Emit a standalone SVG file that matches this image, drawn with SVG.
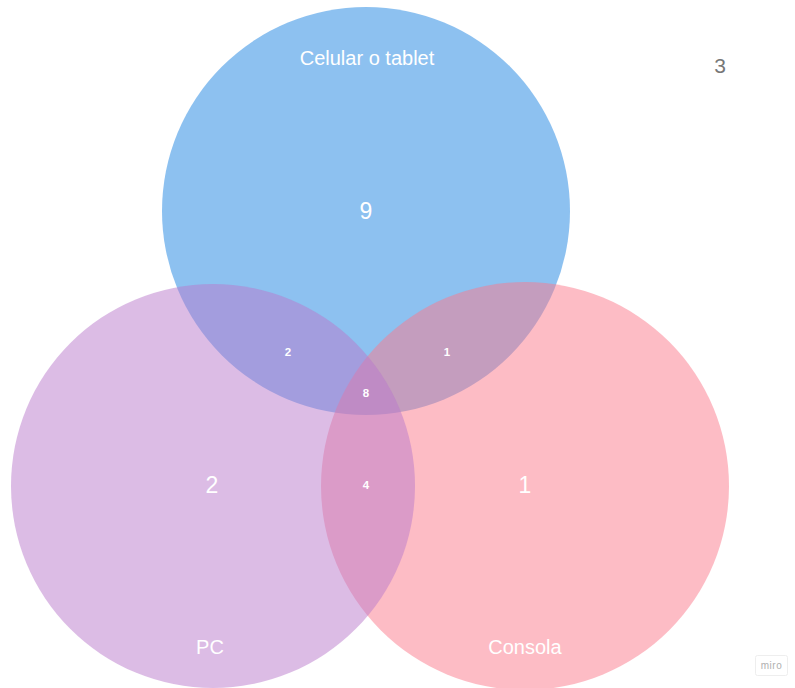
<svg xmlns="http://www.w3.org/2000/svg" width="795" height="688" viewBox="0 0 795 688">
  <style>
    .set { fill-opacity: 0.5; stroke: none; }
    .label { font-family: "Liberation Sans", Arial, sans-serif; fill: #ffffff; text-anchor: middle; }
    .big { font-size: 23px; }
    .name { font-size: 20px; }
    .small { font-size: 11.5px; font-weight: bold; }
  </style>
  <rect width="795" height="688" fill="#ffffff"/>

  <!-- Sets -->
  <g id="set-celular">
    <circle class="set" cx="366" cy="211" r="204" fill="#1b83e1"/>
  </g>
  <g id="set-consola">
    <circle class="set" cx="525" cy="486" r="204" fill="#fb798b"/>
  </g>
  <g id="set-pc">
    <circle class="set" cx="213" cy="486" r="202" fill="#b979cb"/>
  </g>

  <!-- Set names and counts -->
  <g id="text-celular">
    <text class="label name" x="367" y="65">Celular o tablet</text>
    <text class="label big" x="366" y="219">9</text>
  </g>
  <g id="text-pc">
    <text class="label name" x="210" y="654">PC</text>
    <text class="label big" x="212" y="493">2</text>
  </g>
  <g id="text-consola">
    <text class="label name" x="525" y="654">Consola</text>
    <text class="label big" x="525" y="493">1</text>
  </g>

  <!-- Intersections -->
  <g id="intersections">
    <text class="label small" x="288" y="356">2</text>
    <text class="label small" x="447" y="356">1</text>
    <text class="label small" x="366" y="397">8</text>
    <text class="label small" x="366" y="489">4</text>
  </g>

  <!-- Outside all sets -->
  <g id="outside">
    <text x="720" y="73" font-family="Liberation Sans, Arial, sans-serif" font-size="21" fill="#777777" text-anchor="middle">3</text>
  </g>

  <!-- Badge -->
  <g id="badge">
    <rect x="755.5" y="655.5" width="32" height="20" rx="2" fill="#ffffff" stroke="#eeeeee"/>
    <text x="771.5" y="669" font-family="Liberation Sans, Arial, sans-serif" font-size="10" fill="#b0b0b0" text-anchor="middle" letter-spacing="0.5">miro</text>
  </g>
</svg>
